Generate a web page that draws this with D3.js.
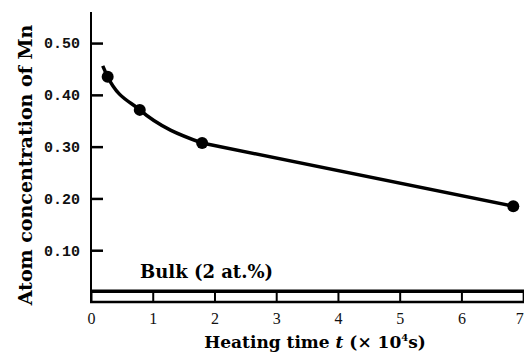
<!DOCTYPE html>
<html>
<head>
<meta charset="utf-8">
<script src="https://cdn.jsdelivr.net/npm/d3@7"></script>
<style>
  body { margin: 0; background: #fff; }
  svg { display: block; }
</style>
</head>
<body>
<script>
// measured points (heating time in 1e4 s, Mn atom fraction)
var times = [0.27, 0.79, 1.8, 6.84];
var conc = [0.435, 0.371, 0.307, 0.185];

// fitted curve: bent part up to the third point, then straight to the last
var curveTimes = [0.19, 0.27, 0.79, 1.8];
var curveConc = [0.456, 0.435, 0.371, 0.307];
var straightTimes = [1.8, 6.84];
var straightConc = [0.307, 0.185];

var bulkLevel = 0.021;
var xTicks = [0, 1, 2, 3, 4, 5, 6, 7];
var yTicks = [0.10, 0.20, 0.30, 0.40, 0.50];

var width = 524, height = 356;
var titleFont = "DejaVu Serif";

var svg = d3.select("body").append("svg")
  .attr("width", width)
  .attr("height", height);

var x = d3.scaleLinear().domain([0, 7.03]).range([91, 525]);
var y = d3.scaleLinear().domain([0, 0.56]).range([302, 12]);

// bulk line
svg.append("line")
  .attr("x1", x(0)).attr("x2", width)
  .attr("y1", y(bulkLevel)).attr("y2", y(bulkLevel))
  .attr("stroke", "#000").attr("stroke-width", 3.5);

svg.append("text")
  .attr("x", 140).attr("y", 278)
  .attr("font-family", titleFont)
  .attr("font-weight", "bold")
  .attr("font-size", 18)
  .text("Bulk (2 at.%)");

// x axis
var xAxis = svg.append("g")
  .attr("transform", "translate(0,302)")
  .call(d3.axisBottom(x).tickValues(xTicks).tickFormat(d3.format("d"))
    .tickSizeInner(-10).tickSizeOuter(0).tickPadding(11));
xAxis.select(".domain").remove();
xAxis.selectAll(".tick line").attr("stroke-width", 2);
xAxis.selectAll("text")
  .attr("font-family", "Liberation Serif")
  .attr("font-size", 16)
  .attr("fill", "#111");
// last label sits at the right edge
xAxis.selectAll("text").filter(function (d) { return d === 7; })
  .attr("text-anchor", "end").attr("dx", 0);
svg.append("line")
  .attr("x1", x(0) - 1).attr("x2", width)
  .attr("y1", 302).attr("y2", 302)
  .attr("stroke", "#000").attr("stroke-width", 2.5);

// y axis
var yAxis = svg.append("g")
  .attr("transform", "translate(91,0)")
  .call(d3.axisLeft(y).tickValues(yTicks).tickFormat(d3.format(".2f"))
    .tickSizeInner(-12).tickSizeOuter(0).tickPadding(11));
yAxis.select(".domain").remove();
yAxis.selectAll(".tick line").attr("stroke-width", 2.5);
yAxis.selectAll("text")
  .attr("font-family", "Liberation Mono")
  .attr("font-weight", "bold")
  .attr("font-size", 15)
  .attr("fill", "#111");
svg.append("line")
  .attr("x1", 91).attr("x2", 91)
  .attr("y1", 12).attr("y2", 303)
  .attr("stroke", "#000").attr("stroke-width", 2);

// curve
var line = d3.line()
  .x(function (d) { return x(d[0]); })
  .y(function (d) { return y(d[1]); });

svg.append("path")
  .datum(curveTimes.map(function (t, i) { return [t, curveConc[i]]; }))
  .attr("fill", "none")
  .attr("stroke", "#000")
  .attr("stroke-width", 3.5)
  .attr("d", line.curve(d3.curveMonotoneX));

svg.append("path")
  .datum(straightTimes.map(function (t, i) { return [t, straightConc[i]]; }))
  .attr("fill", "none")
  .attr("stroke", "#000")
  .attr("stroke-width", 3.5)
  .attr("d", line.curve(d3.curveLinear));

// points
svg.selectAll("circle.pt")
  .data(times)
  .enter().append("circle")
  .attr("class", "pt")
  .attr("cx", function (d) { return x(d); })
  .attr("cy", function (d, i) { return y(conc[i]); })
  .attr("r", 6)
  .attr("fill", "#000");

// axis titles
var xt = svg.append("text")
  .attr("x", 315).attr("y", 348)
  .attr("text-anchor", "middle")
  .attr("font-family", titleFont)
  .attr("font-weight", "bold")
  .attr("font-size", 17);
xt.append("tspan").text("Heating time ");
xt.append("tspan").attr("font-style", "italic").text("t");
xt.append("tspan").text(" (× 10");
xt.append("tspan").attr("font-size", 10).attr("dy", -7).text("4");
xt.append("tspan").attr("dy", 7).text("s)");

svg.append("text")
  .attr("transform", "translate(32,165) rotate(-90)")
  .attr("text-anchor", "middle")
  .attr("font-family", titleFont)
  .attr("font-weight", "bold")
  .attr("font-size", 19)
  .text("Atom concentration of Mn");
</script>
</body>
</html>
